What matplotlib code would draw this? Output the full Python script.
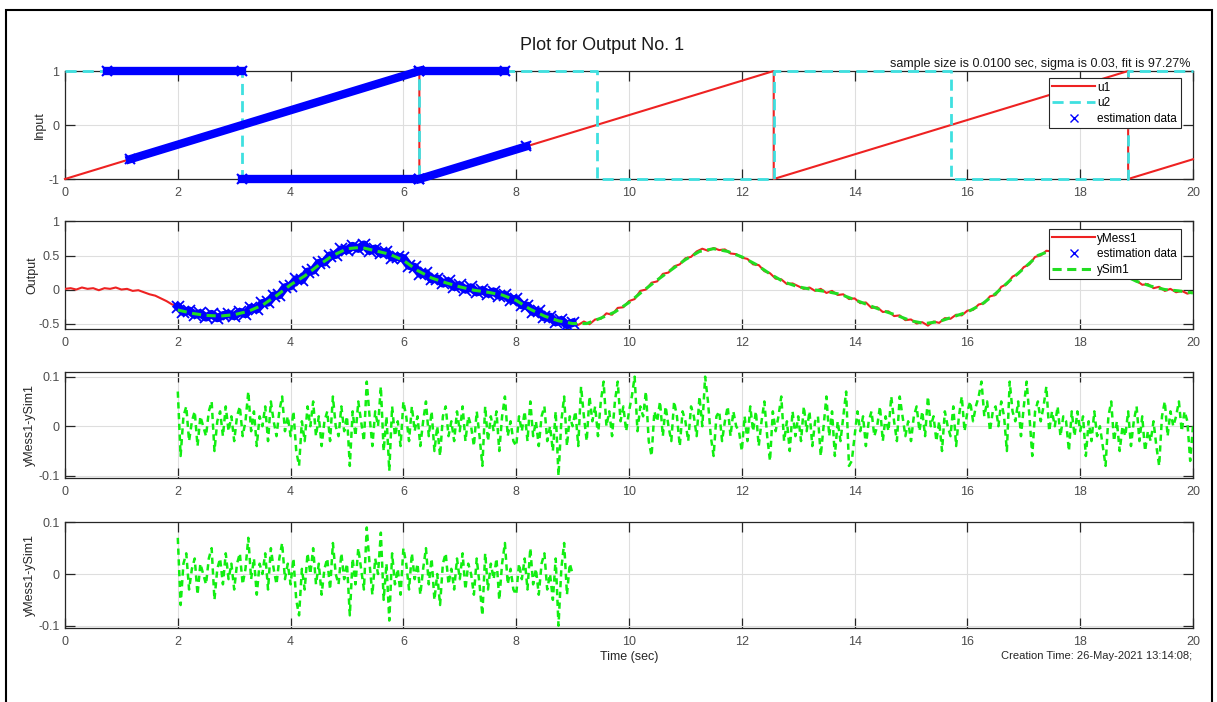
import numpy as np
import matplotlib
matplotlib.use('Agg')
import matplotlib.pyplot as plt
from matplotlib.lines import Line2D
from matplotlib.patches import Rectangle

plt.rcParams['font.family'] = ['Liberation Sans', 'DejaVu Sans']
plt.rcParams['axes.unicode_minus'] = False

# ---- data ----
# inputs: breakpoints (time in sec, value)
u1_t = [0, 6.283, 6.283, 12.566, 12.566, 18.850, 18.850, 20]
u1_v = [-1, 1, -1, 1, -1, 1, -1, -0.634]
u2_t = [0, 3.142, 3.142, 6.283, 6.283, 9.425, 9.425, 12.566, 12.566,
        15.708, 15.708, 18.850, 18.850, 20]
u2_v = [1, 1, -1, -1, 1, 1, -1, -1, 1, 1, -1, -1, 1, 1]

# estimation data on the inputs (nan = gap)
est_u1_t = [1.15, 6.283, np.nan, 6.283, 8.18]
est_u1_v = [-0.634, 1, np.nan, -1, -0.396]
est_u2_t = [0.75, 3.142, np.nan, 3.142, 6.283, np.nan, 6.283, 7.80]
est_u2_v = [1, 1, np.nan, -1, -1, np.nan, 1, 1]

# measured output, every 0.1 sec from 0 to 20
y_mess = [
    0.01, 0.02, 0.00, 0.03, 0.01, 0.02, -0.01, 0.02, 0.01, 0.03,
    0.00, 0.01, -0.02, -0.01, -0.04, -0.07, -0.09, -0.13, -0.17, -0.22,
    -0.25, -0.33, -0.31, -0.37, -0.35, -0.41, -0.36, -0.42, -0.38, -0.36,
    -0.39, -0.33, -0.36, -0.27, -0.29, -0.20, -0.19, -0.09, -0.08, 0.03,
    0.05, 0.15, 0.14, 0.26, 0.28, 0.39, 0.40, 0.50, 0.51, 0.59,
    0.58, 0.64, 0.60, 0.66, 0.57, 0.60, 0.53, 0.55, 0.47, 0.48,
    0.46, 0.35, 0.33, 0.23, 0.24, 0.15, 0.16, 0.09, 0.12, 0.04,
    0.06, 0.00, 0.03, -0.04, -0.01, -0.06, -0.03, -0.09, -0.08, -0.15,
    -0.14, -0.23, -0.24, -0.33, -0.32, -0.41, -0.40, -0.48, -0.45, -0.52,
    -0.49, -0.52, -0.47, -0.51, -0.44, -0.43, -0.35, -0.37, -0.27, -0.26,
    -0.17, -0.14, -0.02, 0.00, 0.10, 0.12, 0.23, 0.25, 0.34, 0.37,
    0.46, 0.48, 0.56, 0.60, 0.57, 0.61, 0.58, 0.59, 0.53, 0.52,
    0.47, 0.45, 0.37, 0.36, 0.27, 0.24, 0.16, 0.15, 0.08, 0.09,
    0.05, 0.01, 0.03, -0.02, 0.01, -0.05, -0.02, -0.08, -0.07, -0.14,
    -0.13, -0.20, -0.19, -0.27, -0.26, -0.33, -0.32, -0.39, -0.38, -0.45,
    -0.44, -0.50, -0.48, -0.53, -0.47, -0.49, -0.42, -0.43, -0.37, -0.38,
    -0.31, -0.30, -0.22, -0.20, -0.10, -0.08, 0.04, 0.08, 0.19, 0.23,
    0.33, 0.37, 0.48, 0.50, 0.57, 0.56, 0.62, 0.59, 0.61, 0.56,
    0.54, 0.53, 0.47, 0.46, 0.38, 0.37, 0.28, 0.26, 0.17, 0.16,
    0.13, 0.07, 0.08, 0.02, 0.04, -0.02, 0.01, -0.04, -0.02, -0.06,
    -0.04,
]

# simulated output, every 0.25 sec from 2 to 20
y_sim = [
    -0.30, -0.35, -0.38, -0.39, -0.37, -0.32, -0.23, -0.09,
    0.07, 0.20, 0.36, 0.50, 0.60, 0.62, 0.57, 0.52,
    0.43, 0.28, 0.17, 0.10, 0.04, -0.01, -0.04, -0.08,
    -0.16, -0.29, -0.39, -0.46, -0.50, -0.50, -0.42, -0.33,
    -0.19, -0.02, 0.14, 0.29, 0.44, 0.56, 0.60, 0.56,
    0.48, 0.37, 0.23, 0.11, 0.04, 0.00, -0.03, -0.07,
    -0.15, -0.23, -0.31, -0.38, -0.46, -0.50, -0.47, -0.40,
    -0.33, -0.22, -0.06, 0.13, 0.31, 0.50, 0.58, 0.61,
    0.56, 0.47, 0.36, 0.22, 0.12, 0.05, 0.00, -0.02,
    -0.05,
]

# residual yMess1-ySim1, every 0.05 sec from 2 to 20
resid = [
    0.07, -0.06, 0.02, 0.04, -0.03, 0.01, 0.03, -0.04, 0.02, 0.00, -0.02, 0.03, 0.05, -0.05, 0.01, 0.03, -0.02, 0.04, -0.01, 0.02,
    -0.03, 0.02, 0.04, -0.02, 0.01, 0.07, -0.01, 0.03, -0.04, 0.02, 0.00, 0.04, -0.03, 0.05, 0.01, -0.02, 0.03, 0.06, -0.01, 0.02,
    -0.02, 0.03, -0.05, -0.08, 0.01, -0.03, 0.04, 0.00, 0.05, -0.02, 0.02, -0.04, 0.01, 0.03, -0.03, 0.06, 0.00, -0.02, 0.04, -0.01,
    0.02, -0.08, 0.03, -0.02, 0.05, 0.01, -0.03, 0.09, 0.02, -0.04, 0.03, 0.00, 0.08, -0.05, 0.02, -0.09, 0.04, -0.02, 0.01, -0.04,
    0.05, 0.02, -0.03, 0.04, -0.01, 0.02, -0.04, 0.01, 0.05, -0.02, 0.03, -0.05, 0.00, -0.06, 0.02, 0.04, -0.02, 0.01, -0.03, 0.03,
    -0.01, 0.04, -0.03, 0.02, 0.00, -0.04, 0.03, -0.02, -0.08, 0.04, -0.03, 0.02, -0.01, 0.03, -0.05, 0.02, 0.06, -0.02, 0.01, -0.03,
    -0.04, 0.02, -0.01, 0.03, -0.03, 0.05, -0.02, 0.01, -0.04, 0.02, 0.04, -0.03, 0.00, -0.05, 0.03, -0.10, 0.01, 0.06, -0.04, 0.02,
    0.00, 0.03, -0.04, 0.08, 0.02, -0.03, 0.06, 0.01, 0.04, -0.02, 0.05, 0.09, 0.00, 0.03, -0.02, 0.05, 0.09, 0.01, 0.04, -0.01,
    0.03, 0.06, 0.10, -0.01, 0.04, 0.02, 0.07, -0.03, -0.06, 0.03, 0.01, 0.05, -0.02, 0.04, 0.00, -0.03, 0.05, 0.02, -0.04, 0.03,
    0.01, -0.03, 0.04, 0.02, -0.02, 0.06, 0.00, 0.10, 0.05, -0.02, -0.06, 0.02, 0.03, -0.03, 0.01, 0.04, -0.02, 0.03, 0.00, -0.01,
    -0.05, 0.02, -0.03, 0.04, -0.01, 0.03, -0.04, 0.01, 0.05, -0.02, -0.07, 0.03, -0.01, 0.02, 0.06, -0.03, 0.01, -0.05, 0.03, -0.02,
    0.02, -0.03, 0.04, -0.01, 0.03, -0.04, 0.01, 0.02, -0.06, 0.00, 0.06, -0.02, 0.03, -0.06, 0.01, -0.03, 0.02, 0.07, -0.08, -0.07,
    -0.02, 0.03, -0.01, 0.02, -0.04, 0.01, 0.03, -0.02, 0.00, 0.04, -0.03, 0.02, -0.01, 0.06, 0.01, -0.03, 0.06, 0.02, -0.02, 0.01,
    -0.03, 0.02, 0.04, -0.01, 0.03, -0.02, 0.06, 0.00, 0.02, -0.03, 0.01, -0.05, 0.03, 0.00, -0.02, 0.04, -0.04, 0.02, 0.06, -0.01,
    0.03, 0.05, 0.01, 0.04, 0.06, 0.09, 0.02, 0.05, -0.01, 0.03, 0.04, 0.00, 0.05, 0.02, -0.05, 0.09, 0.03, 0.01, 0.05, -0.02,
    0.04, 0.09, 0.02, -0.06, 0.03, 0.05, 0.01, 0.04, 0.08, -0.01, 0.03, 0.00, 0.04, -0.02, 0.02, 0.01, -0.05, 0.03, -0.02, 0.03,
    -0.01, 0.02, -0.06, 0.01, -0.03, 0.03, -0.02, 0.00, -0.04, -0.08, 0.02, 0.05, -0.03, 0.01, -0.05, 0.00, -0.02, 0.03, -0.04, 0.01,
    0.04, -0.03, 0.02, -0.05, -0.01, -0.03, 0.01, -0.04, -0.08, 0.02, 0.05, -0.02, 0.03, 0.00, 0.02, 0.05, -0.01, 0.03, 0.01, -0.07,
    0.00,
]

x_ticks = [0, 2, 4, 6, 8, 10, 12, 14, 16, 18, 20]

t_mess = np.arange(len(y_mess)) * 0.1
t_sim = 2 + np.arange(len(y_sim)) * 0.25
t_res = 2 + np.arange(len(resid)) * 0.05
y_mess = np.array(y_mess)
resid = np.array(resid)

RED = '#ee2222'
CYAN = '#3fe0e0'
BLUE = '#0000ff'
GREEN = '#22dd22'
RGREEN = '#11ee11'
TXT = '#262626'

W, H = 1217, 702
fig = plt.figure(figsize=(W / 100, H / 100), dpi=100)


def make_axes(top_px, bot_px):
    ax = fig.add_axes([65 / W, 1 - bot_px / H, 1128 / W, (bot_px - top_px) / H])
    ax.set_xlim(0, 20)
    ax.set_xticks(x_ticks)
    ax.grid(True, color='#dedede', lw=0.8)
    ax.set_axisbelow(True)
    ax.tick_params(direction='in', length=7, width=0.9, top=True, right=True,
                   colors=TXT, labelcolor='#4d4d4d', labelsize=9)
    ax.tick_params(axis='x', pad=5.5)
    ax.tick_params(axis='y', pad=4)
    for s in ax.spines.values():
        s.set_color(TXT)
        s.set_linewidth(0.9)
    return ax


def add_legend(ax, handles, labels, top):
    leg = ax.legend(handles, labels, loc='upper right', bbox_to_anchor=(0.989, top),
                    borderaxespad=0, fontsize=8.5, fancybox=False, framealpha=1,
                    edgecolor=TXT, handlelength=3.6, handletextpad=0.2,
                    labelspacing=0.3, borderpad=0.3)
    leg.get_frame().set_linewidth(0.8)
    leg.set_zorder(10)
    return leg


# panel 1: inputs
ax1 = make_axes(71, 179)
ax1.set_ylim(-1, 1)
ax1.set_yticks([-1, 0, 1])
ax1.plot(u1_t, u1_v, color=RED, lw=1.5, zorder=3, clip_on=False)
ax1.plot(u2_t, u2_v, color=CYAN, lw=2, ls=(0, (4, 2.2)), zorder=3, clip_on=False)
ax1.plot(est_u1_t, est_u1_v, color=BLUE, lw=6, zorder=4, clip_on=False)
ax1.plot(est_u2_t, est_u2_v, color=BLUE, lw=6, zorder=4, clip_on=False)
ax1.plot(est_u1_t + est_u2_t, est_u1_v + est_u2_v, ls='none', marker='x',
         ms=7, mew=1.5, color=BLUE, zorder=4, clip_on=False)
ax1.set_ylabel('Input', fontsize=9, color=TXT)
ax1.yaxis.set_label_coords(-0.0168, 0.5)
add_legend(ax1,
           [Line2D([], [], color=RED, lw=1.5),
            Line2D([], [], color=CYAN, lw=2, ls=(0, (4, 2.2))),
            Line2D([], [], color=BLUE, ls='none', marker='x', ms=6)],
           ['u1', 'u2', 'estimation data'], 0.935)

# panel 2: output
ax2 = make_axes(221.5, 329)
ax2.set_ylim(-0.58, 1)
ax2.set_yticks([-0.5, 0, 0.5, 1])
ax2.set_yticklabels(['-0.5', '0', '0.5', '1'])
est = (t_mess >= 1.999) & (t_mess <= 9.001)
ax2.plot(t_mess, y_mess, color=RED, lw=1.5, zorder=3)
ax2.plot(t_mess[est], y_mess[est], color=BLUE, lw=6, zorder=3)
ax2.plot(t_mess[est], y_mess[est], ls='none', marker='x', ms=8, mew=1.3,
         color=BLUE, zorder=3)
ax2.plot(t_sim, y_sim, color=GREEN, lw=2.2, ls=(0, (3, 1.8)), zorder=4)
ax2.set_ylabel('Output', fontsize=9, color=TXT)
ax2.yaxis.set_label_coords(-0.024, 0.5)
add_legend(ax2,
           [Line2D([], [], color=RED, lw=1.5),
            Line2D([], [], color=BLUE, ls='none', marker='x', ms=6),
            Line2D([], [], color=GREEN, lw=2.2, ls=(0, (3, 1.8)))],
           ['yMess1', 'estimation data', 'ySim1'], 0.930)

# panel 3: residual over the whole record
ax3 = make_axes(371.7, 478.3)
ax3.set_ylim(-0.105, 0.11)
ax3.set_yticks([-0.1, 0, 0.1])
ax3.set_yticklabels(['-0.1', '0', '0.1'])
ax3.plot(t_res, resid, color=RGREEN, lw=1.8, ls=(0, (2.5, 1.8)), zorder=3)
ax3.set_ylabel('yMess1-ySim1', fontsize=9, color=TXT)
ax3.yaxis.set_label_coords(-0.0257, 0.5)

# panel 4: residual over the estimation window
ax4 = make_axes(522.3, 628.3)
ax4.set_ylim(-0.105, 0.1)
ax4.set_yticks([-0.1, 0, 0.1])
ax4.set_yticklabels(['-0.1', '0', '0.1'])
win = t_res <= 9.001
ax4.plot(t_res[win], resid[win], color=RGREEN, lw=1.8, ls=(0, (2.5, 1.8)), zorder=3)
ax4.set_ylabel('yMess1-ySim1', fontsize=9, color=TXT)
ax4.yaxis.set_label_coords(-0.0257, 0.5)
ax4.set_xlabel('Time (sec)', fontsize=9, color=TXT)
ax4.xaxis.set_label_coords(0.5, -0.214)

# texts
fig.text(602 / W, 1 - 50 / H, 'Plot for Output No. 1', ha='center', va='baseline',
         fontsize=13, color='#1a1a1a')
fig.text(1191 / W, 1 - 67 / H,
         'sample size is 0.0100 sec, sigma is 0.03, fit is 97.27%',
         ha='right', va='baseline', fontsize=9, color='#1a1a1a')
fig.text(1192 / W, 1 - 659 / H, 'Creation Time: 26-May-2021 13:14:08;',
         ha='right', va='baseline', fontsize=8, color=TXT)

# figure frame
fig.add_artist(Rectangle((6 / W, -0.05), (1212 - 6) / W, 1.05 - 10 / H,
                         transform=fig.transFigure, fill=False, lw=1.5,
                         ec='black'))

fig.savefig('out.png', dpi=100)
